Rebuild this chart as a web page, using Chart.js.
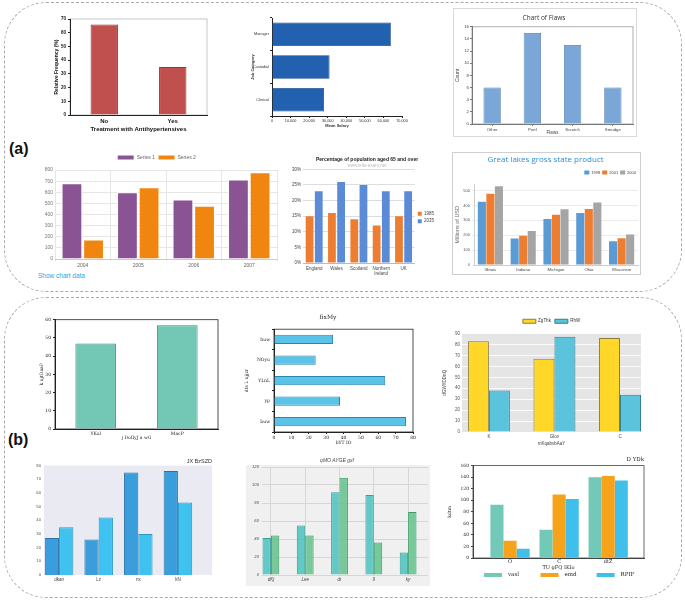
<!DOCTYPE html>
<html>
<head>
<meta charset="utf-8">
<script src="https://cdn.jsdelivr.net/npm/chart.js@4.4.0/dist/chart.umd.min.js"></script>
<style>
  body { margin: 0; background: #fff; width: 685px; height: 603px; position: relative; overflow: hidden; font-family: "Liberation Sans", Arial, sans-serif; }
  .panel { position: absolute; border: 1.6px dashed #a9a9a9; border-radius: 42px; box-sizing: border-box; }
  .box { position: absolute; }
  .tag { position: absolute; font-weight: bold; font-size: 16px; color: #111; }
  .link { position: absolute; font-size: 6.5px; color: #2aa6de; }
</style>
</head>
<body>
<div class="panel" style="left:4px;top:2px;width:678px;height:290px"></div>
<div class="panel" style="left:4px;top:297px;width:678px;height:301px"></div>
<div class="tag" style="left:9px;top:140px">(a)</div>
<div class="tag" style="left:8px;top:431px">(b)</div>
<div class="link" style="left:38px;top:272px">Show chart data</div>
<div class="box" style="left:246px;top:465px;width:184px;height:121px;background:#f0f0f0"></div>
<script>
// ---- panel (a), top row
const freqLabels = ["No", "Yes"];
const freqValues = [66, 35];
const jobLabels = ["Manager", "Custodial", "Clerical"];
const salaryValues = [64000, 31000, 28000];
const flawLabels = ["Other", "Peel", "Scratch", "Smudge"];
const flawCounts = [6, 15, 13, 6];
// ---- panel (a), bottom row
const years = ["2004", "2005", "2006", "2007"];
const series1 = [680, 600, 535, 715];
const series2 = [175, 645, 478, 780];
const regions = ["England", "Wales", "Scotland", ["Northern", "Ireland"], "UK"];
const pop1985 = [15, 16, 14, 12, 15];
const pop2035 = [23, 26, 25, 23, 23];
const lakeStates = ["Illinois", "Indiana", "Michigan", "Ohio", "Wisconsin"];
const gsp1998 = [425, 178, 309, 349, 160];
const gsp2001 = [479, 196, 337, 376, 180];
const gsp2004 = [529, 228, 374, 420, 205];
// ---- panel (b)
const tealLabels = ["YKol", "MacP"];
const tealValues = [47, 57];
const hbarLabels = ["huw", "NOyu", "YLnL", "yp", "buw"];
const hbarValues = [34, 24, 64, 38, 76];
const ggLabels = ["K", "Glov", "C"];
const ggYellow = [83, 67, 86];
const ggCyan = [38, 87, 34];
const sbLabels = ["dkan", "Lz", "nx", "kN"];
const sbDark = [27, 26, 75, 76];
const sbLight = [35, 42, 30, 53];
const grLabels = ["dKj", "Lee", "dr", "ll", "ky"];
const grTeal = [41, 55, 92, 89, 25];
const grGreen = [44, 44, 108, 36, 70];
const triLabels = ["O", "C", "dtZ"];
const triVasl = [92, 49, 140];
const triEmd = [30, 110, 142];
const triRpif = [16, 102, 134];

const SANS = "'Liberation Sans', Arial, sans-serif";
const SERIF = "'DejaVu Serif', serif";
const OPEN = "'Open Sans', sans-serif";

Chart.defaults.font.family = SANS;
Chart.defaults.color = "#333";
Chart.defaults.animation = false;
Chart.defaults.events = [];
Chart.defaults.responsive = true;
Chart.defaults.maintainAspectRatio = false;
Chart.defaults.plugins.legend.display = false;
Chart.defaults.plugins.tooltip.enabled = false;

// plot background + frame around the chart area
Chart.register({
  id: "frame",
  beforeDraw(chart, args, opts) {
    const { ctx, chartArea: a } = chart;
    ctx.save();
    if (opts.bg) {
      ctx.fillStyle = opts.bg;
      ctx.fillRect(a.left, a.top, a.width, a.height);
    }
    if (opts.color) {
      ctx.strokeStyle = opts.color;
      ctx.lineWidth = opts.width || 0.8;
      ctx.strokeRect(a.left, a.top, a.width, a.height);
    }
    ctx.restore();
  },
});

// legend spread evenly under the plot (last chart)
const spreadLegend = {
  id: "spreadLegend",
  afterDraw(chart, args, opts) {
    const { ctx, chartArea: a } = chart;
    const sets = chart.data.datasets;
    const slot = a.width / sets.length;
    const y = a.bottom + opts.offset;
    ctx.save();
    ctx.font = opts.font;
    ctx.textBaseline = "middle";
    sets.forEach((ds, i) => {
      const w = opts.boxWidth + 6 + ctx.measureText(ds.label).width;
      const x = a.left + slot * (i + 0.5) - w / 2;
      ctx.fillStyle = ds.backgroundColor;
      ctx.fillRect(x, y - opts.boxHeight / 2, opts.boxWidth, opts.boxHeight);
      ctx.fillStyle = opts.color;
      ctx.fillText(ds.label, x + opts.boxWidth + 6, y);
    });
    ctx.restore();
  },
};

const setW = (w) => (s) => { s.width = w; };
const setH = (h) => (s) => { s.height = h; };
const pts = (vals) => vals.map((y, x) => ({ x, y }));
const nameAt = (names) => (v) => (names[v] !== undefined ? names[v] : "");
const noGrid = { display: false, drawTicks: false, offset: false };

function box(left, top, w, h, css) {
  const d = document.createElement("div");
  d.className = "box";
  d.style.cssText = `left:${left}px;top:${top}px;width:${w}px;height:${h}px;` + (css || "");
  const c = document.createElement("canvas");
  d.appendChild(c);
  document.body.appendChild(d);
  return c;
}

// 1. Relative frequency
new Chart(box(54, 14, 157, 119), {
  type: "bar",
  data: {
    labels: freqLabels,
    datasets: [{ data: freqValues, backgroundColor: "#c0504d", borderColor: "#8b3a38", borderWidth: 1, barPercentage: 0.4, categoryPercentage: 1 }],
  },
  options: {
    layout: { padding: { top: 5, right: 4 } },
    plugins: { frame: { color: "#b8b8b8" } },
    scales: {
      x: {
        grid: noGrid, border: { color: "#222" },
        ticks: { padding: 3, color: "#111", font: { size: 6, weight: "bold" } },
        title: { display: true, text: "Treatment with Antihypertensives", color: "#111", font: { size: 6, weight: "bold" }, padding: 0 },
        afterFit: setH(18),
      },
      y: {
        min: 0, max: 70,
        ticks: { stepSize: 10, padding: 2, color: "#111", font: { size: 4.5, weight: "bold" } },
        grid: { drawOnChartArea: false, tickLength: 2, color: "#222" }, border: { color: "#222" },
        title: { display: true, text: "Relative Frequency (%)", color: "#111", font: { size: 5, weight: "bold" }, padding: 0 },
        afterFit: setW(16),
      },
    },
  },
});

// 2. Mean salary by job category
new Chart(box(250, 14, 160, 114), {
  type: "bar",
  data: {
    labels: jobLabels,
    datasets: [{ data: salaryValues, backgroundColor: "#2161b0", borderColor: "#184a88", borderWidth: 0.8, barPercentage: 0.72, categoryPercentage: 1 }],
  },
  options: {
    indexAxis: "y",
    layout: { padding: { top: 4, right: 8 } },
    scales: {
      x: {
        min: 0, max: 70000,
        ticks: { stepSize: 10000, padding: 1, font: { size: 3.8 }, callback: (v) => v.toLocaleString("en-US") },
        grid: { drawOnChartArea: false, tickLength: 2, color: "#222" }, border: { color: "#222" },
        title: { display: true, text: "Mean Salary", font: { size: 4, weight: "bold" }, padding: 0 },
        afterFit: setH(12),
      },
      y: {
        ticks: { padding: 1, font: { size: 3.8 } },
        grid: { drawOnChartArea: false, tickLength: 2, color: "#222" }, border: { color: "#222" },
        title: { display: true, text: "Job Category", font: { size: 4, weight: "bold" }, padding: 0 },
        afterFit: setW(22),
      },
    },
  },
});

// 3. Chart of Flaws
new Chart(box(453, 8, 184, 129, "border:1px solid #d9d9d9;box-sizing:border-box;background:#fff"), {
  type: "bar",
  data: {
    labels: flawLabels,
    datasets: [{ data: flawCounts, backgroundColor: "#7ba7d8", borderColor: "#4f79a8", borderWidth: 0.8, barPercentage: 0.43, categoryPercentage: 1 }],
  },
  options: {
    layout: { padding: { left: 1, right: 3, bottom: 1 } },
    plugins: {
      frame: { color: "#9a9a9a" },
      title: { display: true, text: "Chart of Flaws", color: "#333", font: { family: OPEN, size: 6.5, weight: "normal" }, padding: { top: 5, bottom: 5 } },
    },
    scales: {
      x: {
        ticks: { padding: 1, color: "#444", font: { size: 4.3 } },
        grid: { drawOnChartArea: false, offset: false, tickLength: 2, color: "#777" }, border: { color: "#777" },
        title: { display: true, text: "Flaws", color: "#444", font: { size: 4.5 }, padding: 0 },
        afterFit: setH(11),
      },
      y: {
        min: 0, max: 16,
        ticks: { stepSize: 2, padding: 1, color: "#444", font: { size: 4.3 } },
        grid: { drawOnChartArea: false, tickLength: 2, color: "#777" }, border: { color: "#777" },
        title: { display: true, text: "Count", color: "#444", font: { size: 5 }, padding: 0 },
        afterFit: setW(17),
      },
    },
  },
});

// 4. Series 1 / Series 2
new Chart(box(36, 152, 244, 119), {
  type: "bar",
  data: {
    labels: years,
    datasets: [
      { label: "Series 1", data: series1, backgroundColor: "#8a5494", borderColor: "#fff", borderWidth: 1 },
      { label: "Series 2", data: series2, backgroundColor: "#f0860f", borderColor: "#fff", borderWidth: 1 },
    ],
  },
  options: {
    datasets: { bar: { categoryPercentage: 0.78, barPercentage: 0.96 } },
    layout: { padding: { right: 3 } },
    plugins: {
      legend: { display: true, labels: { boxWidth: 17, boxHeight: 5, padding: 3, color: "#666", font: { size: 5 } } },
    },
    scales: {
      x: {
        ticks: { padding: 2, color: "#666", font: { size: 5 } },
        grid: { color: "#e6e6e6", tickLength: 2 }, border: { color: "#ccc" },
        afterFit: setH(12),
      },
      y: {
        min: 0, max: 800,
        ticks: { stepSize: 100, padding: 2, color: "#777", font: { size: 5 } },
        grid: { color: "#e6e6e6", drawTicks: false }, border: { display: false },
        afterFit: setW(19),
      },
    },
  },
});

// 5. Percentage of population aged 65 and over
new Chart(box(290, 154, 160, 127), {
  type: "bar",
  data: {
    labels: regions,
    datasets: [
      { label: "1985", data: pop1985, backgroundColor: "#ed7d31" },
      { label: "2035", data: pop2035, backgroundColor: "#5b8bd7" },
    ],
  },
  options: {
    datasets: { bar: { categoryPercentage: 0.82, barPercentage: 0.85 } },
    layout: { padding: { right: 6 } },
    plugins: {
      title: { display: true, text: "Percentage of population aged 65 and over", color: "#222", font: { size: 5, weight: "bold" }, padding: { top: 2.5, bottom: 0.5 } },
      subtitle: { display: true, text: "www.ielts-exam.net", color: "#bbb", font: { size: 4.5 }, padding: { top: 0, bottom: 1 } },
      legend: { display: true, position: "right", labels: { boxWidth: 4, boxHeight: 4, padding: 3, color: "#444", font: { size: 4.5 } } },
    },
    scales: {
      x: {
        ticks: { padding: 3, color: "#444", font: { size: 4.5 }, maxRotation: 0, autoSkip: false },
        grid: noGrid, border: { color: "#bbb" },
        afterFit: setH(18),
      },
      y: {
        min: 0, max: 30,
        ticks: { stepSize: 5, padding: 2, color: "#444", font: { size: 4.5 }, callback: (v) => v + "%" },
        grid: { color: "#ddd", drawTicks: false }, border: { display: false },
        afterFit: setW(13),
      },
    },
  },
});

// 6. Great lakes gross state product
new Chart(box(452, 152, 189, 123, "border:1px solid #cfcfcf;box-sizing:border-box;background:#fff"), {
  type: "bar",
  data: {
    labels: lakeStates,
    datasets: [
      { label: "1998", data: gsp1998, backgroundColor: "#5b9bd5" },
      { label: "2001", data: gsp2001, backgroundColor: "#ed7d31" },
      { label: "2004", data: gsp2004, backgroundColor: "#a5a5a5" },
    ],
  },
  options: {
    datasets: { bar: { categoryPercentage: 0.78, barPercentage: 0.95 } },
    layout: { padding: { right: 2 } },
    plugins: {
      title: { display: true, text: "Great lakes gross state product", color: "#2b8ed6", font: { family: OPEN, size: 8, weight: "normal" }, padding: { top: 2, bottom: 4 } },
      legend: { display: true, align: "end", labels: { boxWidth: 5, boxHeight: 4, padding: 2, color: "#444", font: { size: 4 } } },
    },
    scales: {
      x: {
        ticks: { padding: 2, color: "#444", font: { size: 4.2 } },
        grid: noGrid, border: { color: "#ccc" },
        afterFit: setH(9),
      },
      y: {
        min: 0, max: 540,
        ticks: { stepSize: 100, includeBounds: false, padding: 2, color: "#555", font: { size: 4 } },
        grid: { color: "#ececec", tickLength: 2 }, border: { color: "#ccc" },
        title: { display: true, text: "Millions of USD", color: "#666", font: { size: 5.5 }, padding: 1 },
        afterFit: setW(21),
      },
    },
  },
});

// 7. two teal bars
new Chart(box(38, 315, 183, 126), {
  type: "bar",
  data: {
    labels: tealLabels,
    datasets: [{ data: tealValues, backgroundColor: "#72c7b5", borderColor: "#3d8e7e", borderWidth: 1, barPercentage: 0.5, categoryPercentage: 1 }],
  },
  options: {
    layout: { padding: { top: 4, right: 3 } },
    plugins: { frame: { color: "#222" } },
    scales: {
      x: {
        ticks: { padding: 2, color: "#222", font: { family: SERIF, size: 4.5 } },
        grid: noGrid, border: { color: "#222" },
        title: { display: true, text: "j DoIlyJ a wG", color: "#222", font: { family: SERIF, size: 4.5 }, padding: 0 },
        afterFit: setH(12),
      },
      y: {
        min: 0, max: 60,
        ticks: { stepSize: 10, padding: 2, color: "#222", font: { family: SERIF, size: 4.5 } },
        grid: { drawOnChartArea: false, tickLength: 2, color: "#222" }, border: { color: "#222" },
        title: { display: true, text: "k ujtDaaP", color: "#222", font: { family: SERIF, size: 4.5 }, padding: 1 },
        afterFit: setW(17),
      },
    },
  },
});

// 8. horizontal cyan bars
new Chart(box(243, 313, 174, 133), {
  type: "bar",
  data: {
    labels: hbarLabels,
    datasets: [{ data: hbarValues, backgroundColor: "#5bc3e8", borderColor: "#2a86aa", borderWidth: 1, barPercentage: 0.45, categoryPercentage: 1 }],
  },
  options: {
    indexAxis: "y",
    layout: { padding: { right: 4 } },
    plugins: {
      frame: { color: "#222" },
      title: { display: true, text: "fixMy", color: "#222", font: { family: SERIF, size: 6, weight: "normal" }, padding: { top: 1, bottom: 8 } },
    },
    scales: {
      x: {
        min: 0, max: 80,
        ticks: { stepSize: 10, padding: 1, color: "#222", font: { family: SERIF, size: 4.5 } },
        grid: { drawOnChartArea: false, tickLength: 2, color: "#222" }, border: { color: "#222" },
        title: { display: true, text: "bYT IO", color: "#222", font: { family: SERIF, size: 4.5 }, padding: 0 },
        afterFit: setH(14),
      },
      y: {
        ticks: { padding: 2, color: "#222", font: { family: SERIF, size: 4.5 } },
        grid: { drawOnChartArea: false, tickLength: 2, color: "#222" }, border: { color: "#222" },
        title: { display: true, text: "dts L ujjzr", color: "#222", font: { family: SERIF, size: 4.5 }, padding: 1 },
        afterFit: setW(31),
      },
    },
  },
});

// 9. ggplot-style yellow / cyan
new Chart(box(441, 315, 200, 131), {
  type: "bar",
  data: {
    datasets: [
      { label: "ZgThk", data: pts(ggYellow), backgroundColor: "#ffd729", borderColor: "#8a7d3a", borderWidth: 1 },
      { label: "RhW", data: pts(ggCyan), backgroundColor: "#5bc4dc", borderColor: "#2f7f90", borderWidth: 1 },
    ],
  },
  options: {
    datasets: { bar: { categoryPercentage: 0.64, barPercentage: 1 } },
    plugins: {
      frame: { bg: "#e5e5e5" },
      legend: { display: true, fullSize: false, labels: { boxWidth: 13, boxHeight: 4, padding: 4, color: "#333", font: { size: 4.5 } } },
    },
    scales: {
      x: {
        type: "linear", min: -0.41, max: 2.32, offset: false,
        ticks: { stepSize: 1, includeBounds: false, padding: 2, color: "#444", font: { size: 4.5 }, callback: nameAt(ggLabels) },
        grid: noGrid, border: { display: false },
        title: { display: true, text: "mKqabvbAaY", color: "#444", font: { size: 4.5 }, padding: 0 },
        afterFit: setH(14),
      },
      y: {
        min: 0, max: 90,
        ticks: { stepSize: 10, padding: 2, color: "#555", font: { size: 4.5 } },
        grid: { color: "#ffffff", lineWidth: 0.8, drawTicks: false }, border: { display: false },
        title: { display: true, text: "dGWYDDnQ", color: "#444", font: { size: 4.5 }, padding: 1 },
        afterFit: setW(21),
      },
    },
  },
});

// 10. seaborn-style blue pairs
new Chart(box(28, 457, 184, 127), {
  type: "bar",
  data: {
    datasets: [
      { label: "dark", data: pts(sbDark), backgroundColor: "#3a9ddc", borderColor: "#2a74aa", borderWidth: 1 },
      { label: "light", data: pts(sbLight), backgroundColor: "#3fc2ef", borderColor: "#2b98c4", borderWidth: 1 },
    ],
  },
  options: {
    datasets: { bar: { categoryPercentage: 0.72, barPercentage: 1 } },
    plugins: {
      frame: { bg: "#eaeaf2" },
      title: { display: true, text: "JX BzSZD", align: "end", color: "#333", font: { size: 5.5, weight: "normal" }, padding: { top: 1, bottom: 1 } },
    },
    scales: {
      x: {
        type: "linear", min: -0.38, max: 3.86, offset: false,
        ticks: { stepSize: 1, includeBounds: false, padding: 2, color: "#444", font: { size: 4.5 }, callback: nameAt(sbLabels) },
        grid: noGrid, border: { display: false },
        afterFit: setH(9),
      },
      y: {
        min: 0, max: 80,
        ticks: { stepSize: 10, padding: 3, color: "#555", font: { size: 4.2 } },
        grid: noGrid, border: { display: false },
        afterFit: setW(16),
      },
    },
  },
});

// 11. grey-background teal / green
new Chart(box(246, 456, 184, 128), {
  type: "bar",
  data: {
    datasets: [
      { label: "teal", data: pts(grTeal), backgroundColor: "rgba(86,199,194,0.92)", borderColor: "#3a9e99", borderWidth: 1 },
      { label: "green", data: pts(grGreen), backgroundColor: "rgba(108,198,146,0.92)", borderColor: "#3d9c66", borderWidth: 1 },
    ],
  },
  options: {
    datasets: { bar: { categoryPercentage: 0.49, barPercentage: 1 } },
    layout: { padding: { right: 2 } },
    plugins: {
      title: { display: true, text: "qMO AYGE gxf", color: "#444", font: { size: 5, style: "italic", weight: "normal" }, padding: { top: 2, bottom: 3 } },
    },
    scales: {
      x: {
        type: "linear", min: -0.26, max: 4.58, offset: false,
        ticks: { stepSize: 1, includeBounds: false, padding: 2, color: "#444", font: { size: 4.5, style: "italic" }, callback: nameAt(grLabels) },
        grid: { color: "#d6d6d6", drawTicks: false, offset: false }, border: { display: false },
        afterFit: setH(9),
      },
      y: {
        min: 0, max: 120,
        ticks: { stepSize: 20, padding: 3, color: "#555", font: { size: 4.2, style: "italic" } },
        grid: { color: "#d6d6d6", drawTicks: false }, border: { display: false },
        afterFit: setW(16),
      },
    },
  },
});

// 12. three series, serif
new Chart(box(446, 456, 200, 127), {
  type: "bar",
  data: {
    datasets: [
      { label: "vasl", data: pts(triVasl), backgroundColor: "#72c9b8" },
      { label: "emd", data: pts(triEmd), backgroundColor: "#f7a21b" },
      { label: "RPIF", data: pts(triRpif), backgroundColor: "#3fbfe9" },
    ],
  },
  plugins: [spreadLegend],
  options: {
    datasets: { bar: { categoryPercentage: 0.8, barPercentage: 1 } },
    layout: { padding: { right: 2, bottom: 12 } },
    plugins: {
      frame: { color: "#444" },
      title: { display: true, text: "D YDk", align: "end", color: "#222", font: { family: SERIF, size: 5.5, weight: "normal" }, padding: { top: 0, bottom: 3 } },
      spreadLegend: { offset: 17, boxWidth: 18, boxHeight: 4, color: "#222", font: "5.5px 'DejaVu Serif', serif" },
    },
    scales: {
      x: {
        type: "linear", min: -0.755, max: 2.73, offset: false,
        ticks: { stepSize: 1, includeBounds: false, padding: 1, color: "#222", font: { family: SERIF, size: 5 }, callback: nameAt(triLabels) },
        grid: noGrid, border: { color: "#444" },
        title: { display: true, text: "TU gFQ IKIo", color: "#222", font: { family: SERIF, size: 5 }, padding: 0 },
        afterFit: setH(13),
      },
      y: {
        min: 0, max: 160,
        ticks: { stepSize: 20, padding: 2, color: "#222", font: { family: SERIF, size: 4.5 } },
        grid: { drawOnChartArea: false, tickLength: 2, color: "#444" }, border: { color: "#444" },
        title: { display: true, text: "kdtm", color: "#222", font: { family: SERIF, size: 4.5 }, padding: 1 },
        afterFit: setW(27),
      },
    },
  },
});
</script>
</body>
</html>
